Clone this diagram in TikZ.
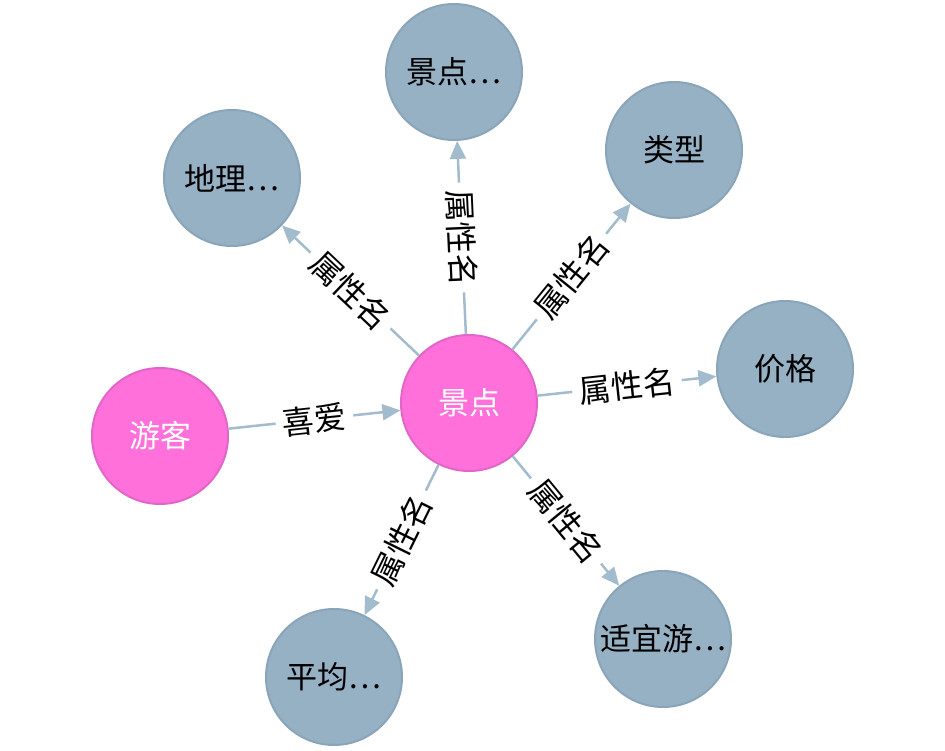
\documentclass[tikz,border=0pt]{standalone}
\usepackage{fontspec}
\setmainfont{Noto Sans CJK SC}
\usetikzlibrary{arrows.meta}
\definecolor{pinkfill}{RGB}{255,112,218}
\definecolor{pinkdraw}{RGB}{226,102,200}
\definecolor{grayfill}{RGB}{150,176,196}
\definecolor{graydraw}{RGB}{138,164,185}
\definecolor{edgecol}{RGB}{163,188,205}
\begin{document}
\begin{tikzpicture}[x=1pt,y=-1pt,
  ent/.style={circle,minimum size=136pt,inner sep=0pt,line width=2pt,font=\fontsize{31}{37}\selectfont},
  pinknode/.style={ent,fill=pinkfill,draw=pinkdraw,text=white},
  graynode/.style={ent,fill=grayfill,draw=graydraw,text=black},
  rel/.style={draw=edgecol,line width=2.5pt,-{Triangle[length=18pt,width=16pt]}},
  rlabel/.style={fill=white,inner xsep=7pt,inner ysep=0pt,font=\fontsize{32}{38}\selectfont,text=black,sloped,midway}]
\useasboundingbox (0,0) rectangle (945,751);
\node[pinknode] (jd) at (469,403) {景点};
\node[pinknode] (yk) at (160,436) {游客};
\node[graynode] (dl) at (232,178) {地理⋯};
\node[graynode] (jdx) at (454,72) {景点⋯};
\node[graynode] (lx) at (674,150) {类型};
\node[graynode] (jg) at (785,369) {价格};
\node[graynode] (sy) at (663,639) {适宜游⋯};
\node[graynode] (pj) at (334,677) {平均⋯};
\draw[rel] (yk) -- node[rlabel] {喜爱} (jd);
\draw[rel] (jd) -- node[rlabel] {属性名} (dl);
\draw[rel] (jd) -- node[rlabel] {属性名} (jdx);
\draw[rel] (jd) -- node[rlabel] {属性名} (lx);
\draw[rel] (jd) -- node[rlabel] {属性名} (jg);
\draw[rel] (jd) -- node[rlabel] {属性名} (sy);
\draw[rel] (jd) -- node[rlabel] {属性名} (pj);
\end{tikzpicture}
\end{document}
